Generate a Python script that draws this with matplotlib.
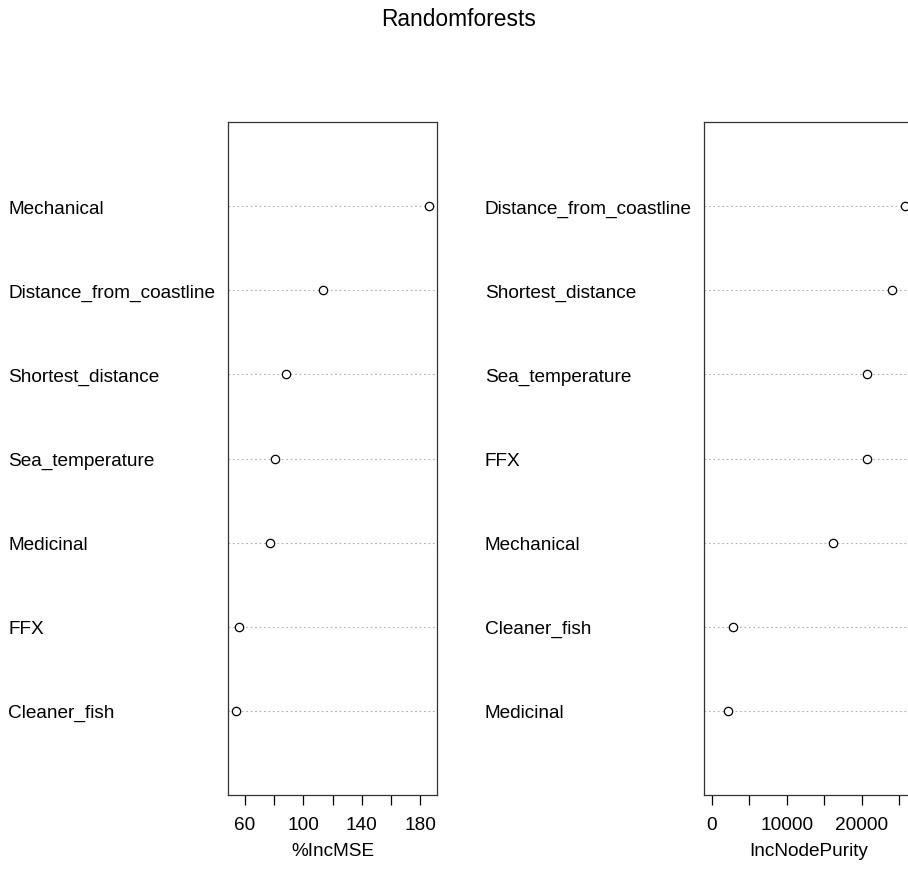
import numpy as np
import matplotlib.pyplot as plt
from matplotlib.transforms import blended_transform_factory, ScaledTranslation

plt.rcParams['font.family'] = ['Liberation Sans', 'DejaVu Sans']

# 左图: %IncMSE (从下到上)
mse_vars = ['Cleaner_fish', 'FFX', 'Medicinal', 'Sea_temperature',
            'Shortest_distance', 'Distance_from_coastline', 'Mechanical']
mse_vals = [54, 56.5, 77.5, 80.5, 88, 113.5, 186]
mse_ticks = [60, 80, 100, 120, 140, 160, 180]
mse_ticklabels = ['60', '', '100', '', '140', '', '180']

# 右图: IncNodePurity (从下到上)
inp_vars = ['Medicinal', 'Cleaner_fish', 'Mechanical', 'FFX',
            'Sea_temperature', 'Shortest_distance', 'Distance_from_coastline']
inp_vals = [2150, 2850, 16100, 20650, 20650, 24000, 25800]
inp_ticks = [0, 5000, 10000, 15000, 20000, 25000]
inp_ticklabels = ['0', '', '10000', '', '20000', '']

W, H = 908, 869
fs = 13.7
fig = plt.figure(figsize=(W / 100, H / 100), dpi=100)


def panel(x0_px, label_px, names, vals, xmin, ticks, ticklabels, xlabel):
    ax = fig.add_axes([x0_px / W, 74 / H, 209 / W, 673 / H])
    n = len(vals)
    y = np.arange(1, n + 1)
    pad = 0.04 * (max(vals) - xmin)
    ax.set_xlim(xmin - pad, max(vals) + pad)
    ax.set_ylim(0, n + 1)
    for yi in y:
        ax.axhline(yi, color='#b0b0b0', lw=0.8, ls=(0, (1.5, 2.5)), zorder=1)
    ax.plot(vals, y, 'o', ms=6, mfc='white', mec='black', mew=0.9, zorder=3)
    ax.set_yticks([])
    ax.set_xticks(ticks)
    ax.set_xticklabels(ticklabels)
    ax.tick_params(axis='x', length=7, width=0.9, pad=9, labelsize=fs,
                   colors='black')
    for s in ax.spines.values():
        s.set_linewidth(0.9)
        s.set_color('#333333')
    ax.set_xlabel(xlabel, fontsize=fs, labelpad=6)
    # 变量名放在左侧边距, 左对齐
    tr = blended_transform_factory(fig.transFigure, ax.transData) + \
        ScaledTranslation(0, -0.03, fig.dpi_scale_trans)
    for name, yi in zip(names, y):
        ax.text(label_px / W, yi, name, transform=tr, ha='left', va='center',
                fontsize=fs, clip_on=False)
    return ax


panel(228, 8, mse_vars, mse_vals, min(mse_vals), mse_ticks, mse_ticklabels, '%IncMSE')
panel(704, 485, inp_vars, inp_vals, 0, inp_ticks, inp_ticklabels, 'IncNodePurity')

fig.text(459 / W, 1 - 20 / H, 'Randomforests', ha='center', va='center', fontsize=16.4)

fig.savefig('out.png', dpi=100)
